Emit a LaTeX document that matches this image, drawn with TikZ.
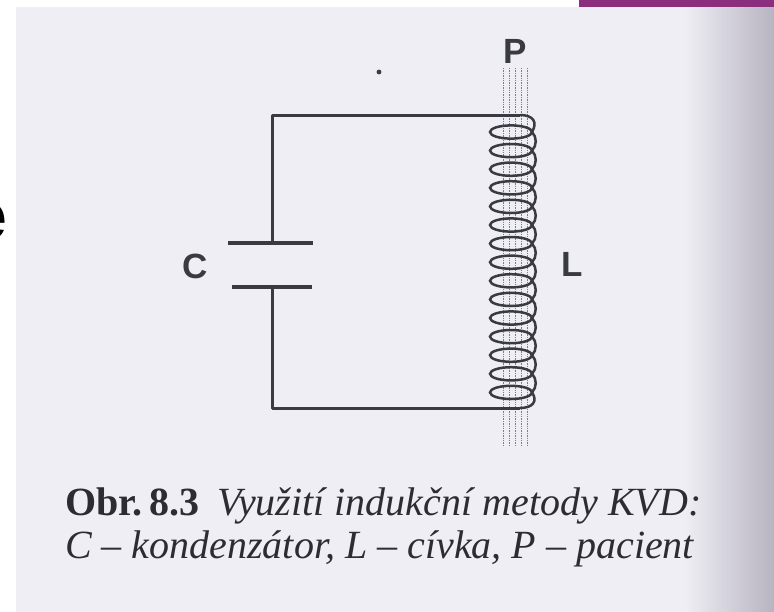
\documentclass[tikz,border=0pt]{standalone}
\usepackage{fontspec}
\setmainfont{Liberation Serif}
\setsansfont{Liberation Sans}
\definecolor{paper}{HTML}{EEEEF4}
\definecolor{pageedge}{HTML}{B4B0BE}
\definecolor{ink}{HTML}{3A3A42}
\definecolor{capink}{HTML}{2E2C33}
\definecolor{purplebar}{HTML}{8C2E7E}
\definecolor{patient}{HTML}{7E7E8A}
\tikzset{
  wire/.style={draw=ink, line width=3pt, line join=round},
  coilline/.style={draw=ink, line width=2.5pt},
  plate/.style={draw=ink, line width=3.2pt},
  patline/.style={draw=patient, line width=0.9pt, dash pattern=on 1.3pt off 1.1pt},
  lbl/.style={font=\sffamily\bfseries\fontsize{35}{35}\selectfont, text=ink, inner sep=0pt},
  captxt/.style={font=\fontsize{40}{42}\selectfont, text=capink, inner sep=0pt, anchor=base west}
}
\begin{document}
\begin{tikzpicture}[x=1pt,y=-1pt]
\useasboundingbox (0,0) rectangle (774,611);
% page background
\fill[paper] (-5,-5) rectangle (800,640);
\fill[white] (-5,-5) rectangle (16,640);
\fill[white] (-5,-5) rectangle (800,7);
\shade[left color=paper, right color=pageedge] (685,7) rectangle (780,640);
\fill[purplebar] (579,-5) rectangle (800,7);
% partial letter at left edge
\begin{scope}
\clip (-5,-5) rectangle (16,640);
\node[anchor=east, inner sep=0pt, font=\sffamily\bfseries\fontsize{68}{68}\selectfont] (edgee) at (8,222) {e};
\end{scope}
% patient (dotted lines)
\foreach \px in {503,509,515,521,527}{
  \draw[patline] (\px,68) -- (\px,447);
}
% circuit coordinates
\coordinate (tl) at (272,115);
\coordinate (tr) at (520,115);
\coordinate (bl) at (272,408);
\coordinate (br) at (520,408);
\coordinate (capT) at (272,243);
\coordinate (capB) at (272,287);
\coordinate (c1) at (532,132);
\coordinate (c2) at (532,392.4);
% wires
\draw[wire] (capT) -- (tl) -- (tr);
\draw[wire] (capB) -- (bl) -- (br);
% capacitor plates
\draw[plate] (228,243) -- (313,243);
\draw[plate] (232,287) -- (312,287);
% coil
\draw[coilline] (tr) .. controls (533,115) and (538,122) .. (c1);
\foreach \i in {0,...,14}{
  \pgfmathsetmacro{\cy}{132+18.6*\i}
  \draw[coilline] (511,\cy) ellipse [x radius=21, y radius=6.6];
}
\foreach \i in {0,...,13}{
  \pgfmathsetmacro{\cy}{132+18.6*\i}
  \pgfmathsetmacro{\cz}{\cy+18.6}
  \draw[coilline] (532,\cy) .. controls (537,\cy+5) and (537,\cz-5) .. (532,\cz);
}
\draw[coilline] (c2) .. controls (538,401) and (533,408) .. (br);
% dot
\fill[ink] (379,72) circle (2.4);
% labels
\node[lbl] (labC) at (195,266) {C};
\node[lbl] (labL) at (572,264) {L};
\node[lbl] (labP) at (515,51) {P};
% caption
\node[captxt] (cap1) at (65,515) {\textbf{Obr.\,8.3}\hspace{0.45em}\textit{Využití indukční metody KVD:}};
\node[captxt] (cap2) at (65,558) {\textit{C – kondenzátor, L – cívka, P – pacient}};
\end{tikzpicture}
\end{document}
